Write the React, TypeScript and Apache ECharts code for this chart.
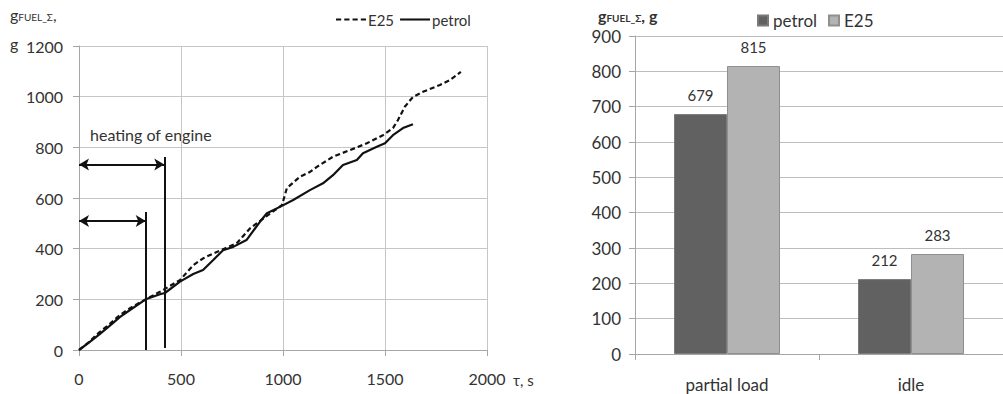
import React, { useEffect, useRef } from "react";
import * as echarts from "echarts";

// ---- Left chart data (time τ, s ; cumulative fuel g) ----
const petrolCurve: [number, number][] = [
  [0, 0], [50, 30], [100, 62], [150, 95], [200, 130], [250, 158], [327, 200], [397, 220], [421, 225],
  [495, 270], [560, 300], [608, 316], [658, 355], [706, 394], [756, 407], [821, 434], [887, 506],
  [921, 540], [985, 565], [1050, 592], [1132, 631], [1196, 658], [1245, 690], [1294, 730],
  [1362, 750], [1392, 777], [1460, 802], [1500, 816], [1539, 848], [1588, 876], [1637, 891],
];
const e25Curve: [number, number][] = [
  [0, 0], [50, 32], [100, 70], [150, 102], [200, 138], [250, 165], [327, 200], [397, 230],
  [495, 276], [560, 335], [609, 362], [658, 381], [706, 398], [773, 421], [838, 480], [903, 519],
  [995, 572], [1019, 639], [1083, 684], [1132, 703], [1166, 723], [1245, 763], [1328, 789],
  [1411, 816], [1490, 848], [1539, 876], [1563, 907], [1597, 960], [1637, 999], [1686, 1019],
  [1769, 1046], [1818, 1065], [1872, 1098],
];
// heating-of-engine markers (τ, s)
const heatingEnds = [327, 418];
const heatingTops = [545, 762];
const heatingBottoms = [0, 8];
const arrowLevels = [509, 732];

const xTicks = { min: 0, max: 2000, interval: 500 };
const yTicks = { min: 0, max: 1200, interval: 200 };

// ---- Right chart data ----
const modes = ["partial load", "idle"];
const petrolTotals = [679, 212];
const e25Totals = [815, 283];
const barTicks = { min: 0, max: 900, interval: 100 };

const FONT = "Lato, 'Liberation Sans', sans-serif";
const TXT = "#333333";
const GRID = "#c6c6c6";
const plain = (v: number) => String(v);

const DASH_ICON = "path://M0,0h5v2h-5z M8,0h5v2h-5z M16,0h5v2h-5z M24,0h5v2h-5z";
const SOLID_ICON = "path://M0,0h29v2h-29z";

export default function App() {
  const leftRef = useRef<HTMLDivElement>(null);
  const rightRef = useRef<HTMLDivElement>(null);

  useEffect(() => {
    document.body.style.margin = "0";
    const left = echarts.init(leftRef.current!, undefined, { renderer: "svg" });
    const right = echarts.init(rightRef.current!, undefined, { renderer: "svg" });

    const arrowPairs = [
      [
        { coord: [0, arrowLevels[0]], symbol: "arrow" },
        { coord: [heatingEnds[0], arrowLevels[0]], symbol: "arrow" },
      ],
      [
        { coord: [0, arrowLevels[1]], symbol: "arrow" },
        { coord: [heatingEnds[1], arrowLevels[1]], symbol: "arrow" },
      ],
      [
        { coord: [heatingEnds[0], heatingBottoms[0]], symbol: "none" },
        { coord: [heatingEnds[0], heatingTops[0]], symbol: "none" },
      ],
      [
        { coord: [heatingEnds[1], heatingBottoms[1]], symbol: "none" },
        { coord: [heatingEnds[1], heatingTops[1]], symbol: "none" },
      ],
    ];

    left.setOption({
      animation: false,
      textStyle: { fontFamily: FONT, color: TXT },
      grid: { left: 79, top: 46, right: 73, bottom: 44 },
      legend: {
        top: 7,
        left: 331,
        itemWidth: 30,
        itemHeight: 2.5,
        itemGap: 6,
        data: [
          { name: "E25", icon: DASH_ICON, itemStyle: { color: "#111" } },
          { name: "petrol", icon: SOLID_ICON, itemStyle: { color: "#111" } },
        ],
        textStyle: { fontFamily: FONT, fontSize: 15, color: TXT, padding: [0, 0, 0, -3] },
      },
      xAxis: {
        type: "value",
        ...xTicks,
        axisLine: { show: true, lineStyle: { color: "#a6a6a6" } },
        axisTick: { show: true, length: 6, lineStyle: { color: "#a6a6a6" } },
        axisLabel: { fontFamily: FONT, fontSize: 16, color: TXT, margin: 20, formatter: plain },
        splitLine: { show: true, lineStyle: { color: GRID } },
      },
      yAxis: {
        type: "value",
        ...yTicks,
        axisLine: { show: true, lineStyle: { color: "#a6a6a6" } },
        axisTick: { show: true, length: 6, lineStyle: { color: "#a6a6a6" } },
        axisLabel: { fontFamily: FONT, fontSize: 16, color: TXT, margin: 16, formatter: plain },
        splitLine: { show: true, lineStyle: { color: GRID } },
      },
      graphic: [
        {
          type: "text",
          left: 10,
          top: 6,
          style: {
            text: "{a|g}{s|FUEL_Σ}{a|,}",
            rich: {
              a: { fontFamily: FONT, fontSize: 16, fill: TXT },
              s: { fontFamily: FONT, fontSize: 10, fill: TXT, padding: [6, 0, 0, 0] },
            },
          },
        },
        {
          type: "text",
          left: 10,
          top: 35,
          style: { text: "g", font: `16px ${FONT}`, fill: TXT },
        },
        {
          type: "text",
          left: 513,
          top: 372,
          style: { text: "τ, s", font: `15px ${FONT}`, fill: TXT },
        },
        {
          type: "text",
          left: 90,
          top: 126,
          style: { text: "heating of engine", font: `16px ${FONT}`, fill: TXT },
        },
      ],
      series: [
        {
          name: "E25",
          type: "line",
          data: e25Curve,
          symbol: "none",
          lineStyle: { color: "#111", width: 2.2, type: [5, 3] },
          itemStyle: { color: "#111" },
        },
        {
          name: "petrol",
          type: "line",
          data: petrolCurve,
          symbol: "none",
          lineStyle: { color: "#111", width: 2.2, type: "solid" },
          itemStyle: { color: "#111" },
          markLine: {
            silent: true,
            symbolSize: [9, 10],
            label: { show: false },
            lineStyle: { color: "#111", width: 2, type: "solid" },
            emphasis: { disabled: true },
            data: arrowPairs,
          },
        },
      ],
    });

    right.setOption({
      animation: false,
      textStyle: { fontFamily: FONT, color: TXT },
      grid: { left: 75, top: 36, right: 0, bottom: 40 },
      legend: {
        top: 7,
        left: 192,
        icon: "rect",
        itemWidth: 10,
        itemHeight: 10,
        itemGap: 11,
        data: ["petrol", "E25"],
        textStyle: { fontFamily: FONT, fontSize: 17, color: TXT },
      },
      xAxis: {
        type: "category",
        data: modes,
        axisLine: { show: true, lineStyle: { color: "#a6a6a6" } },
        axisTick: { show: true, length: 6, lineStyle: { color: "#a6a6a6" } },
        axisLabel: { fontFamily: FONT, fontSize: 17, color: TXT, margin: 22 },
      },
      yAxis: {
        type: "value",
        ...barTicks,
        axisLine: { show: true, lineStyle: { color: "#a6a6a6" } },
        axisTick: { show: true, length: 6, lineStyle: { color: "#a6a6a6" } },
        axisLabel: { fontFamily: FONT, fontSize: 17, color: TXT, margin: 14, formatter: plain },
        splitLine: { show: true, lineStyle: { color: "#bdbdbd" } },
      },
      graphic: [
        {
          type: "text",
          left: 38,
          top: 7,
          style: {
            text: "{a|g}{s|FUEL_Σ}{a|, g}",
            rich: {
              a: { fontFamily: FONT, fontSize: 16, fontWeight: "bold", fill: TXT },
              s: { fontFamily: FONT, fontSize: 10, fontWeight: "bold", fill: TXT, padding: [5, 0, 0, 0] },
            },
          },
        },
      ],
      series: [
        {
          name: "petrol",
          type: "bar",
          data: petrolTotals,
          barWidth: 53,
          barGap: "0%",
          itemStyle: { color: "#616161", borderColor: "#7a7a7a", borderWidth: 1 },
          label: { show: true, position: "top", distance: 12, fontFamily: FONT, fontSize: 15, color: TXT },
        },
        {
          name: "E25",
          type: "bar",
          data: e25Totals,
          barWidth: 53,
          barGap: "0%",
          itemStyle: { color: "#b3b3b3", borderColor: "#8f8f8f", borderWidth: 1 },
          label: { show: true, position: "top", distance: 12, fontFamily: FONT, fontSize: 15, color: TXT },
        },
      ],
    });

    return () => {
      left.dispose();
      right.dispose();
    };
  }, []);

  return (
    <div style={{ position: "relative", width: 1003, height: 394, background: "#fff" }}>
      <div ref={leftRef} style={{ position: "absolute", left: 0, top: 0, width: 560, height: 394 }} />
      <div ref={rightRef} style={{ position: "absolute", left: 560, top: 0, width: 443, height: 394 }} />
    </div>
  );
}
